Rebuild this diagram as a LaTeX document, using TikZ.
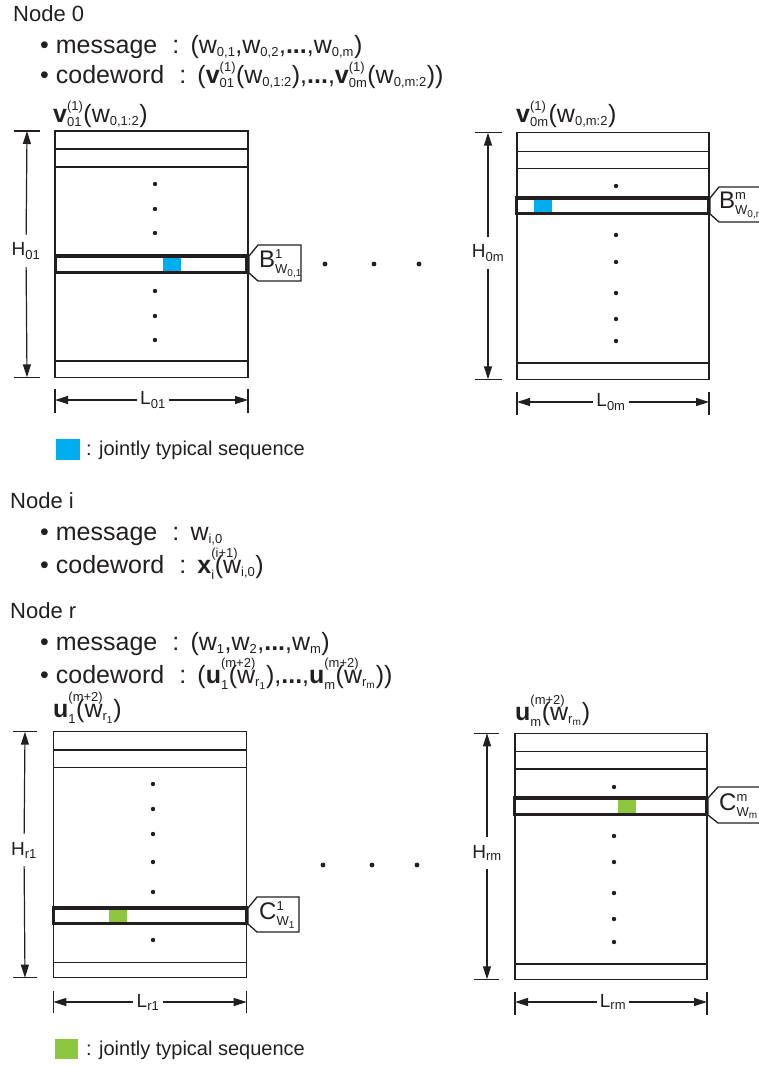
\documentclass[tikz,border=0pt]{standalone}
\usepackage{amsmath}
\usepackage{fontspec}
\setmainfont{Liberation Sans}
\DeclareMathSizes{25}{25}{13}{10}
\DeclareMathSizes{24}{24}{13}{10}
\DeclareMathSizes{19}{19}{13}{10}
\usetikzlibrary{arrows.meta, positioning, calc}
\definecolor{colJoint}{RGB}{0,174,239}
\definecolor{colJointR}{RGB}{141,198,63}
\definecolor{colLine}{RGB}{35,31,32}
\newcommand{\colsep}{\hspace{0.6em}:\hspace{0.45em}}
\newcommand{\suplap}[1]{\rlap{\raisebox{6pt}{$\scriptstyle\text{#1}$}}}
\tikzset{
  txt/.style={anchor=base west, inner sep=0pt, text=colLine, font=\fontsize{25}{28}\selectfont},
  hdr/.style={txt, font=\fontsize{22}{26}\selectfont},
  book/.style={draw=colLine, line width=1.3pt},
  rowbox/.style={draw=colLine, line width=3.2pt},
  tick/.style={draw=colLine, line width=1.2pt},
  dimarr/.style={-{Triangle[length=13pt, width=8pt]}, line width=1.2pt, color=colLine},
  dimlbl/.style={inner xsep=3pt, inner ysep=0pt, minimum height=32pt, text=colLine,
    font=\fontsize{19}{22}\selectfont},
  tagline/.style={draw=colLine, line width=1.3pt, fill=white},
  taglbl/.style={anchor=west, inner sep=0pt, text=colLine, font=\fontsize{24}{28}\selectfont},
  dot/.style={fill=colLine}
}

\begin{document}
\begin{tikzpicture}[x=1pt, y=-1pt]
  \useasboundingbox (0,0) rectangle (759,1065);

  % Node 0 text
  \node[hdr] (node0) at (13,22) {Node 0};
  \node[txt] (msg0) at (40,53) {• message\colsep(w$_{\text{0,1}}$,w$_{\text{0,2}}$,\textbf{...},w$_{\text{0,m}}$)};
  \node[txt] (cw0) at (40,83) {• codeword\colsep($\textbf{v}^{\text{(1)}}_{\text{01}}$(w$_{\text{0,1:2}}$),\textbf{...},$\textbf{v}^{\text{(1)}}_{\text{0m}}$(w$_{\text{0,m:2}}$))};
  \node[txt] (cb01lbl) at (53,122) {$\textbf{v}^{\text{(1)}}_{\text{01}}$(w$_{\text{0,1:2}}$)};
  \node[txt] (cb0mlbl) at (516,122) {$\textbf{v}^{\text{(1)}}_{\text{0m}}$(w$_{\text{0,m:2}}$)};

  % codebook v01
  \draw[book] (55,131) rectangle (248,377.3);
  \draw[book] (55,149) -- (248,149) (55,167) -- (248,167) (55,361) -- (248,361);
  \fill[colJoint] (163,257) rectangle (181,271);
  \draw[rowbox] (55.5,256) rectangle (247,272.7);
  \foreach \y in {184,209,233,291,316,340} \fill[dot] (155,\y) circle (2.2);

  % codebook v0m
  \draw[book] (517,132.7) rectangle (709,379.3);
  \draw[book] (517,151.3) -- (709,151.3) (517,168.7) -- (709,168.7) (517,363) -- (709,363);
  \fill[colJoint] (534,200) rectangle (552,212);
  \draw[rowbox] (516.5,198) rectangle (708.3,213.7);
  \foreach \y in {186,235,262,293,319,341} \fill[dot] (616,\y) circle (2.2);

  % tags
  \draw[tagline] (258,245) -- (301,245) -- (301,281) -- (258,281) -- (249,273) -- (249,256) -- cycle;
  \node[taglbl] (tagB1) at (259,264) {B$^{\text{1}}_{\text{W}_{\text{0,1}}}$};
  \draw[tagline] (775,187) -- (719,187) -- (710,198) -- (710,214) -- (719,222) -- (775,222);
  \node[taglbl] (tagBm) at (719,205) {B$^{\text{m}}_{\text{W}_{\text{0,m}}}$};

  % dots between codebooks
  \foreach \x in {325,374,419} \fill[dot] (\x,264) circle (2.4);

  % dimensions
  \draw[tick] (14,131) -- (40,131) (14,377.3) -- (40,377.3);
  \coordinate (h01a) at (27,131);
  \coordinate (h01b) at (27,377.3);
  \node[dimlbl] (h01) at (26,251) {H$_{\text{01}}$};
  \draw[dimarr] (h01) -- (h01a);
  \draw[dimarr] (h01) -- (h01b);
  \draw[tick] (55,389) -- (55,413) (248,389) -- (248,413);
  \coordinate (l01a) at (55,400);
  \coordinate (l01b) at (248,400);
  \node[dimlbl] (l01) at (153,400) {L$_{\text{01}}$};
  \draw[dimarr] (l01) -- (l01a);
  \draw[dimarr] (l01) -- (l01b);

  \draw[tick] (475,132.7) -- (502,132.7) (475,379.3) -- (502,379.3);
  \coordinate (h0ma) at (488,132.7);
  \coordinate (h0mb) at (488,379.3);
  \node[dimlbl] (h0m) at (488,253) {H$_{\text{0m}}$};
  \draw[dimarr] (h0m) -- (h0ma);
  \draw[dimarr] (h0m) -- (h0mb);
  \draw[tick] (517,392) -- (517,415) (709,392) -- (709,415);
  \coordinate (l0ma) at (517,402);
  \coordinate (l0mb) at (709,402);
  \node[dimlbl] (l0m) at (611,402) {L$_{\text{0m}}$};
  \draw[dimarr] (l0m) -- (l0ma);
  \draw[dimarr] (l0m) -- (l0mb);

  % legend
  \fill[colJoint] (56,439) rectangle (80,460);
  \node[txt, font=\fontsize{20}{24}\selectfont] (legend0) at (86,455) {: jointly typical sequence};

  % Node i text
  \node[hdr] (nodei) at (10,508) {Node i};
  \node[txt] (msgi) at (40,540) {• message\colsep w$_{\text{i,0}}$};
  \node[txt] (cwi) at (40,573) {• codeword\colsep$\textbf{x}^{\suplap{(i+1)}}_{\text{i}}$(w$_{\text{i,0}}$)};

  % Node r text
  \node[hdr] (noder) at (10,618) {Node r};
  \node[txt] (msgr) at (40,650) {• message\colsep(w$_{\text{1}}$,w$_{\text{2}}$,\textbf{...},w$_{\text{m}}$)};
  \node[txt] (cwr) at (40,683) {• codeword\colsep($\textbf{u}^{\suplap{(m+2)}}_{\text{1}}$(w$_{\text{r}_{\text{1}}}$),\textbf{...},$\textbf{u}^{\suplap{(m+2)}}_{\text{m}}$(w$_{\text{r}_{\text{m}}}$))};
  \node[txt] (cbr1lbl) at (53,717) {$\textbf{u}^{\suplap{(m+2)}}_{\text{1}}$(w$_{\text{r}_{\text{1}}}$)};
  \node[txt] (cbrmlbl) at (515,720) {$\textbf{u}^{\suplap{(m+2)}}_{\text{m}}$(w$_{\text{r}_{\text{m}}}$)};

  % codebook u1
  \draw[book] (53.3,731.7) rectangle (246.7,977.7);
  \draw[book] (53.3,750) -- (246.7,750) (53.3,767.3) -- (246.7,767.3) (53.3,962.3) -- (246.7,962.3);
  \fill[colJointR] (109,909) rectangle (127,923);
  \draw[rowbox] (53.3,908) rectangle (246.7,923.5);
  \foreach \y in {784,809,834,862,892,940} \fill[dot] (153,\y) circle (2.2);

  % codebook um
  \draw[book] (515,733.3) rectangle (707,979.3);
  \draw[book] (515,751.7) -- (707,751.7) (515,769) -- (707,769) (515,964) -- (707,964);
  \fill[colJointR] (618,799) rectangle (636,814);
  \draw[rowbox] (514.5,798) rectangle (706.5,814.7);
  \foreach \y in {787,836,862,893,919,942} \fill[dot] (614,\y) circle (2.2);

  % tags
  \draw[tagline] (257,897) -- (299,897) -- (299,932) -- (257,932) -- (248,924) -- (248,908) -- cycle;
  \node[taglbl] (tagC1) at (259,915) {C$^{\text{1}}_{\text{W}_{\text{1}}}$};
  \draw[tagline] (775,787) -- (718,787) -- (708,798) -- (708,815) -- (718,823) -- (775,823);
  \node[taglbl] (tagCm) at (719,806) {C$^{\text{m}}_{\text{W}_{\text{m}}}$};

  % dots between codebooks
  \foreach \x in {323,372,417} \fill[dot] (\x,865) circle (2.4);

  % dimensions
  \draw[tick] (13,731.7) -- (37,731.7) (13,977.7) -- (37,977.7);
  \coordinate (hr1a) at (25,731.7);
  \coordinate (hr1b) at (25,977.7);
  \node[dimlbl] (hr1) at (24,850) {H$_{\text{r1}}$};
  \draw[dimarr] (hr1) -- (hr1a);
  \draw[dimarr] (hr1) -- (hr1b);
  \draw[tick] (53.3,991) -- (53.3,1013) (246.7,991) -- (246.7,1013);
  \coordinate (lr1a) at (53.3,1002);
  \coordinate (lr1b) at (246.7,1002);
  \node[dimlbl] (lr1) at (148,1002) {L$_{\text{r1}}$};
  \draw[dimarr] (lr1) -- (lr1a);
  \draw[dimarr] (lr1) -- (lr1b);

  \draw[tick] (474,733.3) -- (499,733.3) (474,979.3) -- (499,979.3);
  \coordinate (hrma) at (487,733.3);
  \coordinate (hrmb) at (487,979.3);
  \node[dimlbl] (hrm) at (487,853) {H$_{\text{rm}}$};
  \draw[dimarr] (hrm) -- (hrma);
  \draw[dimarr] (hrm) -- (hrmb);
  \draw[tick] (515,992) -- (515,1015) (707,992) -- (707,1015);
  \coordinate (lrma) at (515,1002);
  \coordinate (lrmb) at (707,1002);
  \node[dimlbl] (lrm) at (613,1002) {L$_{\text{rm}}$};
  \draw[dimarr] (lrm) -- (lrma);
  \draw[dimarr] (lrm) -- (lrmb);

  % legend
  \fill[colJointR] (55,1039) rectangle (78,1059);
  \node[txt, font=\fontsize{20}{24}\selectfont] (legendr) at (86,1055) {: jointly typical sequence};

\end{tikzpicture}
\end{document}
